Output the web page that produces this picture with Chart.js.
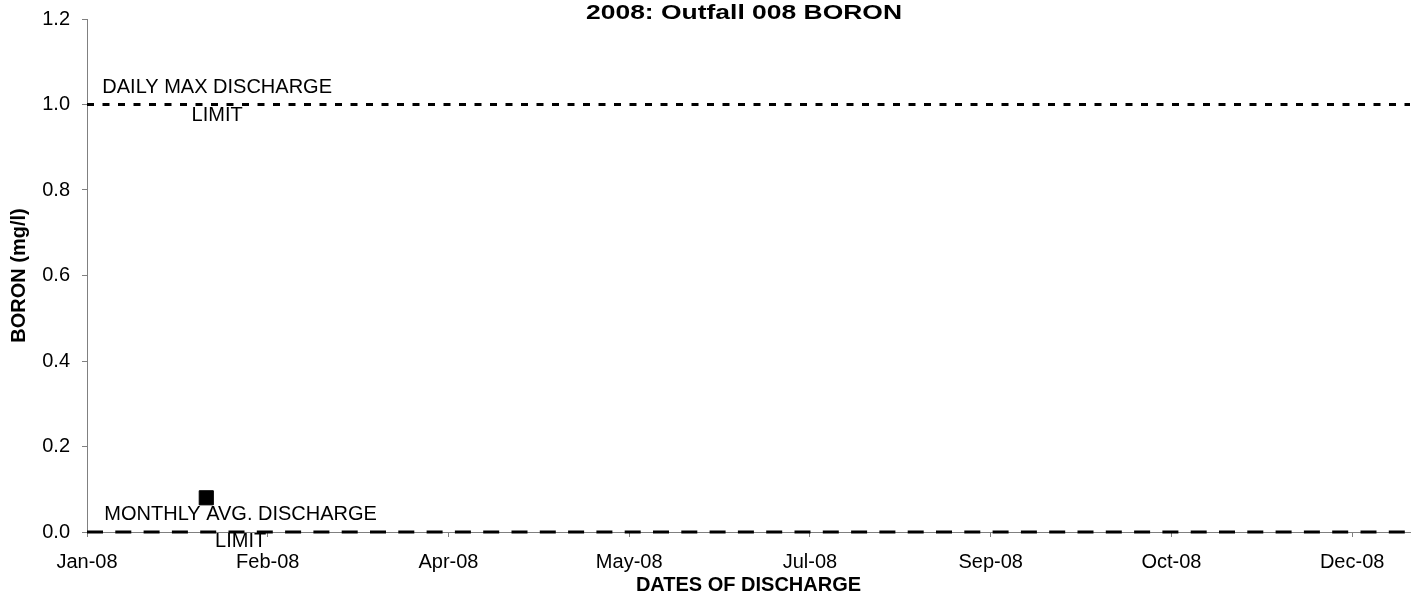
<!DOCTYPE html>
<html>
<head>
<meta charset="utf-8">
<script src="https://cdn.jsdelivr.net/npm/chart.js@4/dist/chart.umd.min.js"></script>
<style>
  html, body { margin: 0; padding: 0; background: #ffffff; }
  #wrap { width: 1421px; height: 600px; position: relative; }
  #c { display: block; }
</style>
</head>
<body>
<div id="wrap"><canvas id="c" width="1421" height="600" style="width:1421px;height:600px"></canvas></div>
<script>
// ---- data ----
const chartTitle = '2008: Outfall 008 BORON';
const xAxisTitle = 'DATES OF DISCHARGE';
const yAxisTitle = 'BORON (mg/l)';

const sampleDates = ['2008-02-03'];
const boronValues = [0.08];

const limitDates = ['2008-01-01', '2009-01-01'];
const dailyMaxLimit = [1.0, 1.0];
const monthlyAvgLimit = [0.0, 0.0];

const dailyMaxLabel = ['DAILY MAX DISCHARGE', 'LIMIT'];
const monthlyAvgLabel = ['MONTHLY AVG. DISCHARGE', 'LIMIT'];

const xTickDates = ['2008-01-01', '2008-02-20', '2008-04-10', '2008-05-30',
                    '2008-07-19', '2008-09-07', '2008-10-27', '2008-12-16'];
const xTickLabels = ['Jan-08', 'Feb-08', 'Apr-08', 'May-08',
                     'Jul-08', 'Sep-08', 'Oct-08', 'Dec-08'];
const yTickValues = [0, 0.2, 0.4, 0.6, 0.8, 1.0, 1.2];

// ---- helpers ----
const origin = Date.UTC(2008, 0, 1);
const toDay = s => (Date.parse(s + 'T00:00:00Z') - origin) / 86400000;

const FONT = "'Liberation Sans', Arial, Helvetica, sans-serif";
const AXIS_GREY = '#808080';

const samplePoints = sampleDates.map((d, i) => ({ x: toDay(d), y: boronValues[i] }));
const dailyPoints = limitDates.map((d, i) => ({ x: toDay(d), y: dailyMaxLimit[i] }));
const monthlyPoints = limitDates.map((d, i) => ({ x: toDay(d), y: monthlyAvgLimit[i] }));

// title (drawn inside the plot region, horizontally stretched like the source)
const titlePlugin = {
  id: 'stretchedTitle',
  afterDraw(chart) {
    const ctx = chart.ctx;
    ctx.save();
    ctx.font = "bold 20px " + FONT;
    ctx.fillStyle = '#000';
    ctx.textAlign = 'center';
    ctx.textBaseline = 'middle';
    const w = ctx.measureText(chartTitle).width;
    const targetW = 316;
    const sx = targetW / w;
    ctx.translate(744, 13);
    ctx.scale(sx, 1);
    ctx.fillText(chartTitle, 0, 0);
    ctx.restore();
  }
};

// labels attached to the limit lines
const limitLabelPlugin = {
  id: 'limitLabels',
  afterDatasetsDraw(chart) {
    const ctx = chart.ctx;
    const xs = chart.scales.x, ys = chart.scales.y;
    const items = [
      { lines: dailyMaxLabel, day: 36, value: dailyMaxLimit[0], dy: [-17.5, 10.5] },
      { lines: monthlyAvgLabel, day: 42.5, value: monthlyAvgLimit[0], dy: [-17.5, 9] }
    ];
    ctx.save();
    ctx.font = "20px " + FONT;
    ctx.fillStyle = '#000';
    ctx.textAlign = 'center';
    ctx.textBaseline = 'middle';
    items.forEach(it => {
      const px = xs.getPixelForValue(it.day);
      const py = ys.getPixelForValue(it.value);
      it.lines.forEach((t, k) => ctx.fillText(t, px, py + it.dy[k]));
    });
    ctx.restore();
  }
};

new Chart(document.getElementById('c'), {
  type: 'line',
  data: {
    datasets: [
      {
        label: 'BORON',
        data: samplePoints,
        showLine: false,
        pointStyle: 'rect',
        pointRadius: 10,
        pointHoverRadius: 10,
        backgroundColor: '#000',
        borderColor: '#000',
        pointBorderWidth: 1,
        order: 0,
        clip: false
      },
      {
        label: 'DAILY MAX DISCHARGE LIMIT',
        data: dailyPoints,
        borderColor: '#000',
        borderWidth: 3,
        borderDash: [7, 8.5],
        borderCapStyle: 'butt',
        pointRadius: 0,
        fill: false,
        order: 1,
        clip: false
      },
      {
        label: 'MONTHLY AVG. DISCHARGE LIMIT',
        data: monthlyPoints,
        borderColor: '#000',
        borderWidth: 3,
        borderDash: [16, 12.3],
        borderCapStyle: 'butt',
        pointRadius: 0,
        fill: false,
        order: 2,
        clip: false
      }
    ]
  },
  options: {
    responsive: false,
    maintainAspectRatio: false,
    animation: false,
    devicePixelRatio: 1,
    layout: { padding: { top: 19, right: 8, bottom: 0, left: 0 } },
    plugins: {
      legend: { display: false },
      title: { display: false },
      tooltip: { enabled: false }
    },
    scales: {
      x: {
        type: 'linear',
        min: toDay(limitDates[0]),
        max: toDay(limitDates[1]),
        afterBuildTicks: s => { s.ticks = xTickDates.map(d => ({ value: toDay(d) })); },
        afterFit: s => { s.height = 68; s.paddingLeft = 0; s.paddingRight = 0; s.paddingTop = 0; s.paddingBottom = 0; },
        ticks: {
          autoSkip: false,
          maxRotation: 0,
          minRotation: 0,
          padding: 13,
          color: '#000',
          font: { family: FONT, size: 20 },
          callback: (v, i) => xTickLabels[i]
        },
        grid: { display: true, drawOnChartArea: false, drawTicks: true, tickLength: 5, color: AXIS_GREY, lineWidth: 1 },
        border: { display: true, color: AXIS_GREY, width: 1 },
        title: {
          display: true,
          text: xAxisTitle,
          color: '#000',
          font: { family: FONT, size: 20, weight: 'bold' },
          padding: { top: 0, bottom: 3 }
        }
      },
      y: {
        type: 'linear',
        min: 0,
        max: 1.2,
        afterBuildTicks: s => { s.ticks = yTickValues.map(v => ({ value: v })); },
        afterFit: s => { s.width = 87; s.paddingLeft = 0; s.paddingRight = 0; s.paddingTop = 0; s.paddingBottom = 0; },
        ticks: {
          padding: 12,
          color: '#000',
          font: { family: FONT, size: 20 },
          callback: v => Number(v).toFixed(1)
        },
        grid: { display: true, drawOnChartArea: false, drawTicks: true, tickLength: 5, color: AXIS_GREY, lineWidth: 1 },
        border: { display: true, color: AXIS_GREY, width: 1 },
        title: {
          display: true,
          text: yAxisTitle,
          color: '#000',
          font: { family: FONT, size: 20, weight: 'bold' },
          padding: { top: 7, bottom: 0 }
        }
      }
    }
  },
  plugins: [titlePlugin, limitLabelPlugin]
});
</script>
</body>
</html>
